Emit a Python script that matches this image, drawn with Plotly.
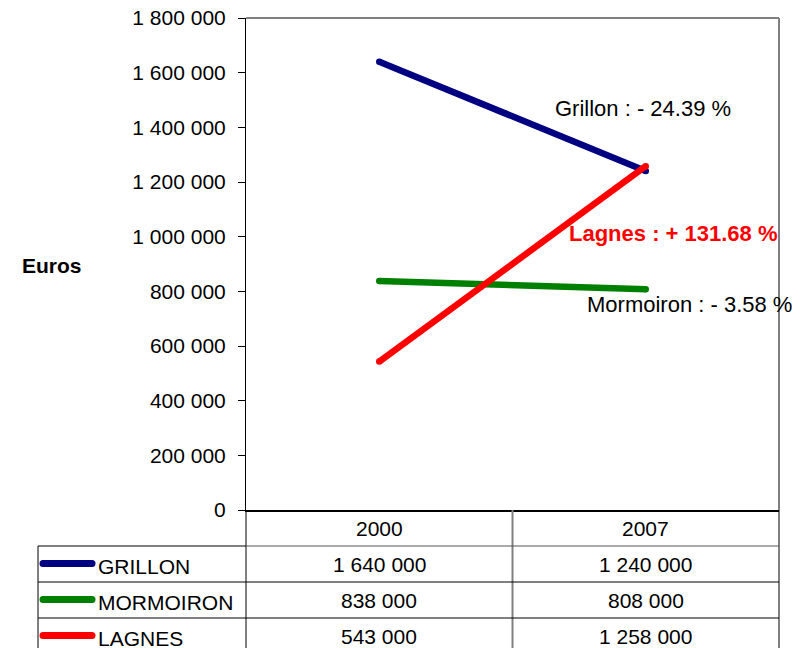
import plotly.graph_objects as go

years = ["2000", "2007"]
towns = ["GRILLON", "MORMOIRON", "LAGNES"]
grillon = [1640000, 1240000]
mormoiron = [838000, 808000]
lagnes = [543000, 1258000]
series = [grillon, mormoiron, lagnes]
colors = ["#000080", "#008000", "#FF0000"]
tick_vals = [0, 200000, 400000, 600000, 800000, 1000000, 1200000, 1400000, 1600000, 1800000]
labels = ["Grillon : - 24.39 %", "Lagnes : + 131.68 %", "Mormoiron : - 3.58 %"]

W, H = 805, 648
L, R, T, B = 246, 779, 18, 510
PW, PH = R - L, B - T

def px(x):
    return (x - L) / PW

def py(y):
    return (B - y) / PH

def fmt(v):
    return f"{v:,}".replace(",", " ")

FONT = "Liberation Sans, Arial, sans-serif"
fs = 21
fs_lab = 22

fig = go.Figure()
for name, vals, col in zip(towns, series, colors):
    fig.add_trace(go.Scatter(x=years, y=vals, mode="lines+markers", name=name,
                             line=dict(color=col, width=6.5),
                             marker=dict(color=col, size=6.5, line=dict(width=0)),
                             showlegend=False))

shapes = []
shapes.append(dict(type="line", xref="paper", yref="paper", x0=0, x1=1, y0=1, y1=1,
                   line=dict(color="#808080", width=2)))
shapes.append(dict(type="line", xref="paper", yref="paper", x0=1, x1=1, y0=0, y1=1,
                   line=dict(color="#808080", width=2)))

row_h = 36
tbl_left = 38
col_x = [L, (L + R) / 2, R]
lc = "#000000"
# verticals
shapes.append(dict(type="line", xref="paper", yref="paper", x0=px(L), x1=px(L),
                   y0=py(B), y1=py(H + 10), line=dict(color=lc, width=1)))
shapes.append(dict(type="line", xref="paper", yref="paper", x0=px(col_x[1]), x1=px(col_x[1]),
                   y0=py(B), y1=py(H + 10), line=dict(color="#808080", width=2)))
shapes.append(dict(type="line", xref="paper", yref="paper", x0=px(R), x1=px(R),
                   y0=py(B), y1=py(H + 10), line=dict(color=lc, width=1)))
shapes.append(dict(type="line", xref="paper", yref="paper", x0=px(tbl_left), x1=px(tbl_left),
                   y0=py(B + row_h), y1=py(H + 10), line=dict(color=lc, width=1)))
# horizontals
shapes.append(dict(type="line", xref="paper", yref="paper", x0=px(tbl_left), x1=px(L),
                   y0=py(B + row_h), y1=py(B + row_h), line=dict(color=lc, width=1)))
shapes.append(dict(type="line", xref="paper", yref="paper", x0=px(L), x1=px(R),
                   y0=py(B + row_h), y1=py(B + row_h), line=dict(color="#555555", width=1)))
for i in range(1, 3):
    y = B + row_h * (i + 1)
    shapes.append(dict(type="line", xref="paper", yref="paper", x0=px(tbl_left), x1=px(R),
                       y0=py(y), y1=py(y), line=dict(color=lc, width=1)))

annotations = []

def ann(x, y, text, color="black", xanchor="center", size=fs):
    annotations.append(dict(x=px(x), y=py(y), xref="paper", yref="paper", text=text,
                            xanchor=xanchor, yanchor="middle", showarrow=False,
                            font=dict(family=FONT, size=size, color=color)))

for j, yr in enumerate(years):
    cx = (col_x[j] + col_x[j + 1]) / 2
    ann(cx, B + row_h / 2, yr)

key_x0, key_x1, key_w = 43, 92, 7
for i, (name, vals, col) in enumerate(zip(towns, series, colors)):
    cy = B + row_h * (i + 1) + row_h / 2
    ky = cy - 0.5
    shapes.append(dict(type="line", xref="paper", yref="paper", x0=px(key_x0), x1=px(key_x1),
                       y0=py(ky), y1=py(ky), line=dict(color=col, width=key_w)))
    for ex in (key_x0, key_x1):
        shapes.append(dict(type="circle", xref="paper", yref="paper",
                           x0=px(ex - key_w / 2), x1=px(ex + key_w / 2),
                           y0=py(ky - key_w / 2), y1=py(ky + key_w / 2),
                           fillcolor=col, line=dict(width=0)))
    ann(96, cy + 2, name, xanchor="left")
    for j, v in enumerate(vals):
        cx = (col_x[j] + col_x[j + 1]) / 2
        ann(cx, cy, fmt(v))

ann(643, 108, labels[0], size=fs_lab)
ann(673, 234, "<b>" + labels[1] + "</b>", color="#FF0000", size=fs_lab)
ann(689, 305, labels[2], size=fs_lab)
ann(52, 265, "<b>Euros</b>")

fig.update_layout(
    template="none",
    width=W, height=H,
    margin=dict(l=L, r=W - R, t=T, b=H - B, pad=0, autoexpand=False),
    paper_bgcolor="white", plot_bgcolor="white",
    shapes=shapes, annotations=annotations,
    xaxis=dict(type="category", range=[-0.5, 1.5], showticklabels=False, ticks="",
               showgrid=False, zeroline=False, showline=True, linecolor="black", linewidth=2,
               automargin=False),
    yaxis=dict(range=[0, 1800000], tickvals=tick_vals, ticktext=[fmt(v) for v in tick_vals],
               ticks="outside", ticklen=7, tickcolor="black", showgrid=False, zeroline=False,
               showline=True, linecolor="black", linewidth=1, automargin=False,
               ticklabelstandoff=8,
               tickfont=dict(family=FONT, size=fs, color="black")),
    font=dict(family=FONT),
)

fig.write_html("out.html", config={"displayModeBar": False},
               post_script="document.body.style.margin='0';document.body.style.overflow='hidden';")
